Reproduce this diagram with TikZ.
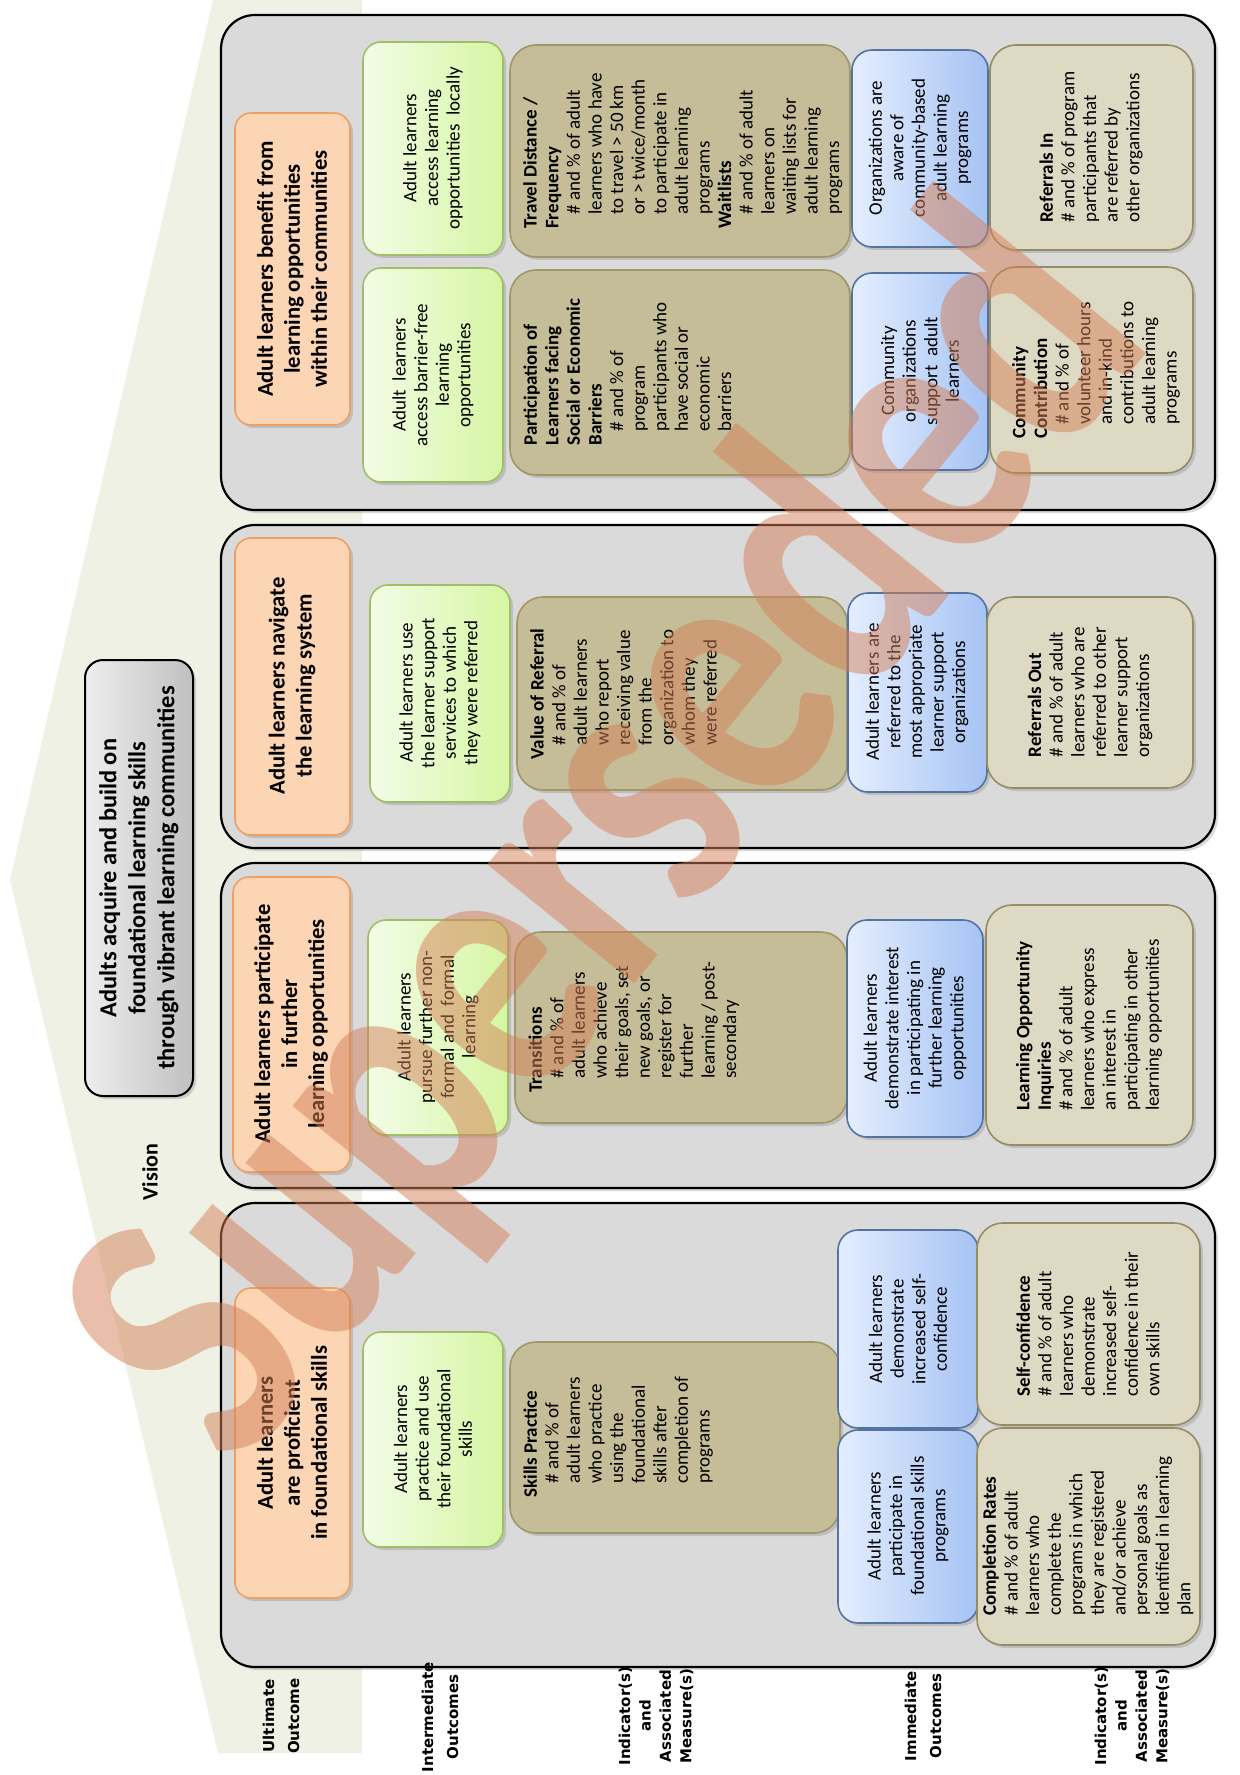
\documentclass[tikz,border=0pt]{standalone}
\usepackage{fontspec}
\setmainfont{Carlito}
\newfontfamily\labfont{DejaVu Sans}
\usetikzlibrary{shadows}

\definecolor{palebg}{RGB}{238,241,227}
\definecolor{panelgray}{RGB}{218,218,218}
\definecolor{ultfill}{RGB}{252,213,181}
\definecolor{ultline}{RGB}{238,160,100}
\definecolor{intleft}{RGB}{242,252,230}
\definecolor{intright}{RGB}{214,246,163}
\definecolor{intline}{RGB}{160,190,105}
\definecolor{indfill}{RGB}{196,189,151}
\definecolor{indline}{RGB}{160,150,105}
\definecolor{immleft}{RGB}{228,238,255}
\definecolor{immright}{RGB}{166,195,243}
\definecolor{immline}{RGB}{85,115,160}
\definecolor{measfill}{RGB}{221,217,195}
\definecolor{measline}{RGB}{150,140,100}
\definecolor{hdrleft}{RGB}{238,238,238}
\definecolor{hdrright}{RGB}{192,192,192}
\definecolor{wmcol}{RGB}{212,128,88}

\newcommand{\tabin}{\hspace*{7pt}}

\begin{document}
\begin{tikzpicture}[x=0.5pt, y=-0.5pt,
  shad/.style={drop shadow={shadow xshift=1.5pt, shadow yshift=-1.5pt, opacity=0.3}},
  panel/.style={draw=black, line width=1.1pt, fill=panelgray, rounded corners=17pt, shad},
  ultbox/.style={draw=ultline, line width=0.8pt, fill=ultfill, rounded corners=8pt, shad},
  intbox/.style={draw=intline, line width=0.8pt, left color=intleft, right color=intright, rounded corners=9pt, shad},
  indbox/.style={draw=indline, line width=0.8pt, fill=indfill, rounded corners=13pt, shad},
  immbox/.style={draw=immline, line width=0.8pt, left color=immleft, right color=immright, rounded corners=10pt, shad},
  measbox/.style={draw=measline, line width=0.8pt, fill=measfill, rounded corners=13pt, shad},
  hdrbox/.style={draw=black, line width=1pt, left color=hdrleft, right color=hdrright, rounded corners=9pt, shad},
  txt/.style={rotate=90, align=center, inner sep=0pt, font=\fontsize{9.5}{10.8}\selectfont},
  lefttxt/.style={txt, align=left},
  ulttxt/.style={txt, font=\fontsize{11.3}{13.5}\selectfont\bfseries},
  hdrtxt/.style={txt, font=\fontsize{12.2}{14.5}\selectfont\bfseries},
  vistxt/.style={txt, font=\fontsize{11}{13}\selectfont\bfseries},
  rowlab/.style={rotate=90, align=center, inner sep=0pt, font=\labfont\bfseries\fontsize{7.5}{12.5}\selectfont},
  rowlabtight/.style={rowlab, font=\labfont\bfseries\fontsize{7.5}{10.2}\selectfont},
  wmark/.style={rotate=51, text=wmcol, text opacity=0.5, inner sep=0pt, font=\fontsize{150}{150}\selectfont\bfseries}
]
\useasboundingbox (0,0) rectangle (1240,1775);

\fill[palebg] (213,0) -- (362,0) -- (362,1753) -- (218,1753) -- (10,880) -- cycle;

\draw[hdrbox] (85,660) rectangle (193,1096);
\node[hdrtxt] (vis) at (139,878) {Adults acquire and build on\\foundational learning skills\\through vibrant learning communities};
\node[vistxt] (vislab) at (150,1172) {Vision};

\draw[panel] (221,15) rectangle (1215,510);
\draw[panel] (221,525) rectangle (1215,848);
\draw[panel] (221,863) rectangle (1215,1188);
\draw[panel] (221,1203) rectangle (1215,1667);

\draw[ultbox] (235,113) rectangle (350,425);
\node[ulttxt] (u4) at (292,269) {Adult learners benefit from\\learning opportunities\\within their communities};
\draw[ultbox] (235,538) rectangle (350,835);
\node[ulttxt] (u3) at (292,686) {Adult learners navigate\\the learning system};
\draw[ultbox] (233,877) rectangle (350,1172);
\node[ulttxt] (u2) at (291,1024) {Adult learners participate\\in further\\learning opportunities};
\draw[ultbox] (235,1288) rectangle (350,1598);
\node[ulttxt] (u1) at (292,1443) {Adult learners\\are proficient\\in foundational skills};

\draw[intbox] (363,42) rectangle (503,255);
\node[txt] (i4a) at (433,148) {Adult learners\\access learning\\opportunities\ \ locally};
\draw[intbox] (363,268) rectangle (503,482);
\node[txt] (i4b) at (433,375) {Adult\ \ learners\\access barrier-free\\learning\\opportunities};
\draw[intbox] (370,585) rectangle (510,802);
\node[txt] (i3) at (440,693) {Adult learners use\\the learner support\\services to which\\they were referred};
\draw[intbox] (368,920) rectangle (508,1135);
\node[txt] (i2) at (438,1027) {Adult learners\\pursue further non-\\formal and\ \ formal\\learning};
\draw[intbox] (363,1332) rectangle (503,1547);
\node[txt] (i1) at (433,1439) {Adult learners\\practice and use\\their foundational\\skills};

\draw[indbox] (510,45) rectangle (850,257);
\node[lefttxt, anchor=north] (m4a) at (523,151) {\textbf{Travel Distance /}\\\textbf{Frequency}\\\tabin\# and \% of adult\\\tabin learners who have\\\tabin to travel > 50 km\\\tabin or > twice/month\\\tabin to participate in\\\tabin adult learning\\\tabin programs\\\textbf{Waitlists}\\\tabin\# and \% of adult\\\tabin learners on\\\tabin waiting lists for\\\tabin adult learning\\\tabin programs};
\draw[indbox] (510,270) rectangle (850,475);
\node[lefttxt, anchor=north] (m4b) at (523,372) {\textbf{Participation of}\\\textbf{Learners facing}\\\textbf{Social or Economic}\\\textbf{Barriers}\\\tabin\# and \% of\\\tabin program\\\tabin participants who\\\tabin have social or\\\tabin economic\\\tabin barriers};
\draw[indbox] (517,597) rectangle (847,790);
\node[lefttxt, anchor=north] (m3) at (530,694) {\textbf{Value of Referral}\\\tabin\# and \% of\\\tabin adult learners\\\tabin who report\\\tabin receiving value\\\tabin from the\\\tabin organization to\\\tabin whom they\\\tabin were referred};
\draw[indbox] (515,932) rectangle (847,1123);
\node[lefttxt, anchor=north] (m2) at (528,1027) {\textbf{Transitions}\\\tabin\# and \% of\\\tabin adult learners\\\tabin who achieve\\\tabin their goals, set\\\tabin new goals, or\\\tabin register for\\\tabin further\\\tabin learning / post-\\\tabin secondary};
\draw[indbox] (510,1342) rectangle (840,1533);
\node[lefttxt, anchor=north] (m1) at (523,1437) {\textbf{Skills Practice}\\\tabin\# and \% of\\\tabin adult learners\\\tabin who practice\\\tabin using the\\\tabin foundational\\\tabin skills after\\\tabin completion of\\\tabin programs};

\draw[immbox] (852,50) rectangle (988,247);
\node[txt] (o4a) at (920,148) {Organizations are\\aware of\\community-based\\adult learning\\programs};
\draw[immbox] (852,273) rectangle (988,470);
\node[txt] (o4b) at (920,371) {Community\\organizations\\support\ \ adult\\learners};
\draw[immbox] (848,593) rectangle (987,792);
\node[txt] (o3) at (917,692) {Adult learners are\\referred to the\\most appropriate\\learner support\\organizations};
\draw[immbox] (847,920) rectangle (983,1137);
\node[txt] (o2) at (915,1028) {Adult learners\\demonstrate interest\\in participating in\\further learning\\opportunities};
\draw[immbox] (838,1230) rectangle (978,1428);
\node[txt] (o1a) at (908,1329) {Adult learners\\demonstrate\\increased self-\\confidence};
\draw[immbox] (838,1430) rectangle (978,1623);
\node[txt] (o1b) at (908,1526) {Adult learners\\participate in\\foundational skills\\programs};

\draw[measbox] (990,45) rectangle (1193,250);
\node[lefttxt] (n4a) at (1091,147) {\textbf{Referrals In}\\\# and \% of program\\participants that\\are referred by\\other organizations};
\draw[measbox] (990,267) rectangle (1193,473);
\node[lefttxt] (n4b) at (1096,370) {\textbf{Community}\\\textbf{Contribution}\\\tabin\# and \% of\\\tabin volunteer hours\\\tabin and in-kind\\\tabin contributions to\\\tabin adult learning\\\tabin programs};
\draw[measbox] (987,597) rectangle (1193,788);
\node[lefttxt] (n3) at (1090,692) {\textbf{Referrals Out}\\\# and \% of adult\\learners who are\\referred to other\\learner support\\organizations};
\draw[measbox] (986,905) rectangle (1193,1145);
\node[lefttxt] (n2) at (1089,1025) {\textbf{Learning Opportunity}\\\textbf{Inquiries}\\\# and \% of adult\\learners who express\\an interest in\\participating in other\\learning opportunities};
\draw[measbox] (977,1223) rectangle (1200,1425);
\node[lefttxt] (n1a) at (1088,1324) {\textbf{Self-confidence}\\\# and \% of adult\\learners who\\demonstrate\\increased self-\\confidence in their\\own skills};
\draw[measbox] (977,1428) rectangle (1200,1645);
\node[lefttxt] (n1b) at (1088,1536) {\textbf{Completion Rates}\\\# and \% of adult\\learners who\\complete the\\programs in which\\they are registered\\and/or achieve\\personal goals as\\identified in learning\\plan};

\node[rowlab] (lult) at (281,1716) {Ultimate\\Outcome};
\node[rowlab] (lint) at (440,1717) {Intermediate\\Outcomes};
\node[rowlabtight] (lind1) at (656,1716) {Indicator(s)\\and\\Associated\\Measure(s)};
\node[rowlab] (limm) at (923,1716) {Immediate\\Outcomes};
\node[rowlabtight] (lind2) at (1132,1716) {Indicator(s)\\and\\Associated\\Measure(s)};

\node[wmark] (sup) at (615,840) {\scalebox{1}[1.3]{Superseded}};
\end{tikzpicture}
\end{document}
